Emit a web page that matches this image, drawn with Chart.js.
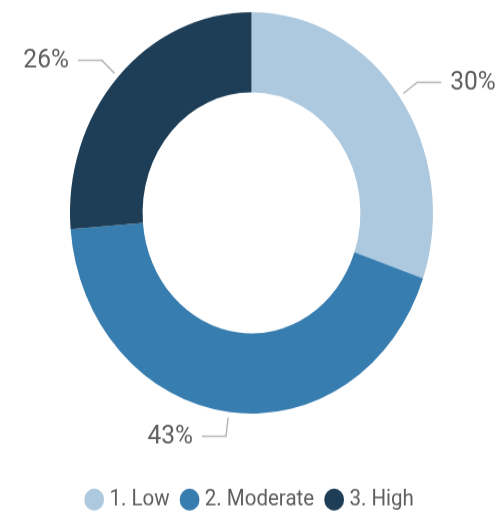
<!DOCTYPE html>
<html lang="en">
<head>
  <meta charset="UTF-8">
  <title>Donut chart</title>
  <script src="https://cdn.jsdelivr.net/npm/chart.js"></script>
  <style>
    html, body { margin: 0; padding: 0; overflow: hidden; background: #fff; }
    #donut { display: block; }
  </style>
</head>
<body>
  <!-- drawn a bit squashed, then stretched vertically like the reference -->
  <canvas id="donut" width="497" height="472" style="width:497px;height:522px"></canvas>
  <script>
    // data
    const categories = ['1. Low', '2. Moderate', '3. High'];
    const shares = [30.3, 43.4, 26.3];
    const colors = ['#ADC9DF', '#387DB0', '#1E3E57'];

    const labelColor = '#605E5C';
    const lineColor = '#B8B8B8';

    // percent labels with little elbow leader lines
    const leaderLabels = {
      id: 'leaderLabels',
      afterDatasetsDraw(chart) {
        const ctx = chart.ctx;
        const arcs = chart.getDatasetMeta(0).data;
        ctx.save();
        ctx.font = '24.5px Roboto';
        ctx.textBaseline = 'middle';
        ctx.lineWidth = 1.5;
        ctx.strokeStyle = lineColor;
        ctx.fillStyle = labelColor;
        arcs.forEach((arc, i) => {
          const p = arc.getProps(['x', 'y', 'startAngle', 'endAngle', 'outerRadius'], true);
          const mid = (p.startAngle + p.endAngle) / 2;
          const cos = Math.cos(mid), sin = Math.sin(mid);
          const x1 = p.x + cos * (p.outerRadius + 5);
          const y1 = p.y + sin * (p.outerRadius + 5);
          const x2 = p.x + cos * (p.outerRadius + 22);
          const y2 = p.y + sin * (p.outerRadius + 22);
          const dir = cos >= 0 ? 1 : -1;
          const x3 = x2 + dir * 24;
          ctx.beginPath();
          ctx.moveTo(x1, y1);
          ctx.lineTo(x2, y2);
          ctx.lineTo(x3, y2);
          ctx.stroke();
          ctx.textAlign = dir > 0 ? 'left' : 'right';
          ctx.fillText(Math.round(shares[i]) + '%', x3 + dir * 9, y2);
        });
        ctx.restore();
      }
    };

    const ctx = document.getElementById('donut').getContext('2d');
    new Chart(ctx, {
      type: 'doughnut',
      data: {
        labels: categories,
        datasets: [{
          data: shares,
          backgroundColor: colors,
          borderWidth: 0,
          hoverBorderWidth: 0,
          hoverOffset: 0
        }]
      },
      options: {
        responsive: false,
        animation: false,
        cutout: '60%',
        layout: { padding: { top: 11, left: 6, right: 0, bottom: 0 } },
        plugins: {
          tooltip: { enabled: false },
          legend: {
            position: 'bottom',
            title: {
              display: true,
              text: ' ',
              font: { size: 10, lineHeight: 1 },
              padding: { top: 42.5, bottom: 0 }
            },
            labels: {
              usePointStyle: true,
              pointStyle: 'circle',
              boxWidth: 10,
              boxHeight: 14,
              padding: 15,
              color: labelColor,
              font: { family: 'Roboto', size: 20.5 }
            }
          }
        }
      },
      plugins: [leaderLabels]
    });
  </script>
</body>
</html>
